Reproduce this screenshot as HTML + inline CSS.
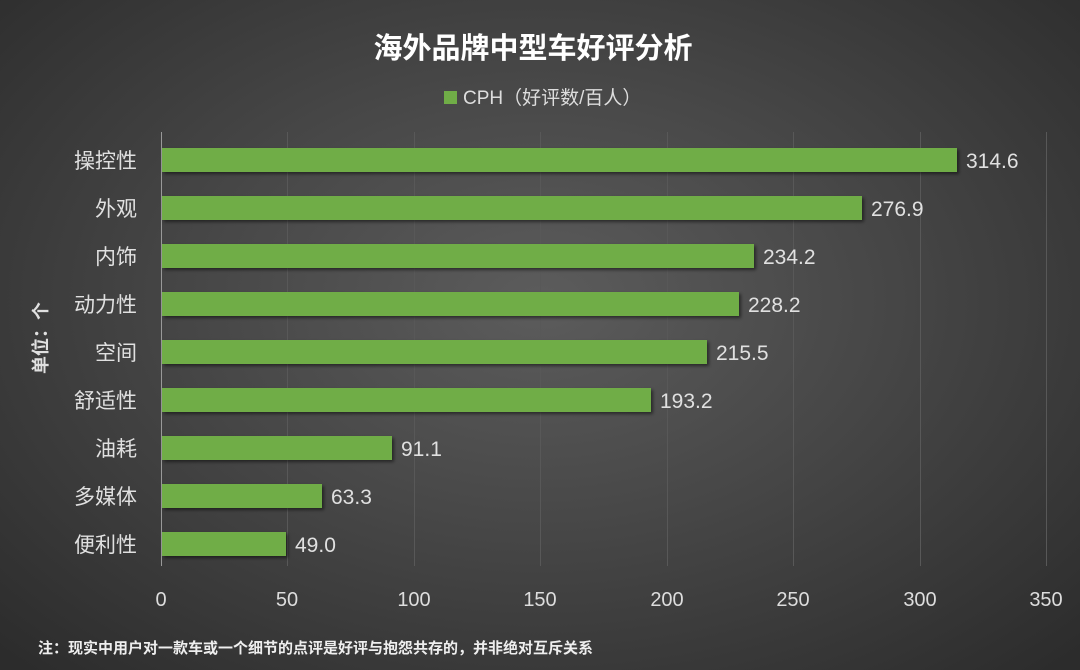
<!DOCTYPE html>
<html><head><meta charset="utf-8"><style>
body{margin:0}
#c{width:1080px;height:670px;position:relative;overflow:hidden;background:radial-gradient(ellipse 70% 75% at 50% 45%,#5c5c5c 0%,#474747 45%,#2c2c2c 100%);font-family:"Liberation Sans","Noto Sans CJK SC",sans-serif;color:#ddd}
</style></head><body><div id="c">
<svg width="1080" height="670" style="position:absolute;left:0;top:0" font-family="Liberation Sans, Noto Sans CJK SC, sans-serif">
<defs><filter id="s"><feDropShadow dx="2" dy="2" stdDeviation="1.5" flood-color="#000" flood-opacity="0.5"/></filter></defs>
<g stroke="#585858" stroke-width="1">
<line x1="287.5" y1="132" x2="287.5" y2="566"/><line x1="414.5" y1="132" x2="414.5" y2="566"/><line x1="540.5" y1="132" x2="540.5" y2="566"/><line x1="667.5" y1="132" x2="667.5" y2="566"/><line x1="793.5" y1="132" x2="793.5" y2="566"/><line x1="920.5" y1="132" x2="920.5" y2="566"/><line x1="1046.5" y1="132" x2="1046.5" y2="566"/>
</g>
<line x1="161.5" y1="132" x2="161.5" y2="566" stroke="#999"/>
<g fill="#70ad47" filter="url(#s)">
<rect x="162" y="148" width="795" height="24"/>
<rect x="162" y="196" width="700" height="24"/>
<rect x="162" y="244" width="592" height="24"/>
<rect x="162" y="292" width="577" height="24"/>
<rect x="162" y="340" width="545" height="24"/>
<rect x="162" y="388" width="489" height="24"/>
<rect x="162" y="436" width="230" height="24"/>
<rect x="162" y="484" width="160" height="24"/>
<rect x="162" y="532" width="124" height="24"/>
</g>
<g fill="#e0e0e0" font-size="21">
<text x="966" y="168">314.6</text><text x="871" y="216">276.9</text><text x="763" y="264">234.2</text><text x="748" y="312">228.2</text><text x="716" y="360">215.5</text><text x="660" y="408">193.2</text><text x="401" y="456">91.1</text><text x="331" y="504">63.3</text><text x="295" y="552">49.0</text>
</g>
<g fill="#e0e0e0" font-size="21" text-anchor="end">
<text x="137" y="168">操控性</text><text x="137" y="216">外观</text><text x="137" y="264">内饰</text><text x="137" y="312">动力性</text><text x="137" y="360">空间</text><text x="137" y="408">舒适性</text><text x="137" y="456">油耗</text><text x="137" y="504">多媒体</text><text x="137" y="552">便利性</text>
</g>
<g fill="#ddd" font-size="20" text-anchor="middle">
<text x="161" y="606">0</text><text x="287" y="606">50</text><text x="414" y="606">100</text><text x="540" y="606">150</text><text x="667" y="606">200</text><text x="793" y="606">250</text><text x="920" y="606">300</text><text x="1046" y="606">350</text>
</g>
<text transform="translate(47,338) rotate(-90)" text-anchor="middle" fill="#e0e0e0" font-size="18" font-weight="bold">单位：个</text>
<text x="533" y="58" text-anchor="middle" fill="#fff" font-size="29" font-weight="bold">海外品牌中型车好评分析</text>
<rect x="444" y="91" width="13" height="13" fill="#70ad47"/>
<text x="463" y="104" fill="#ddd" font-size="19">CPH（好评数/百人）</text>
<text x="38" y="653" fill="#eee" font-size="15" font-weight="bold">注：现实中用户对一款车或一个细节的点评是好评与抱怨共存的，并非绝对互斥关系</text>
</svg>
</div></body></html>
